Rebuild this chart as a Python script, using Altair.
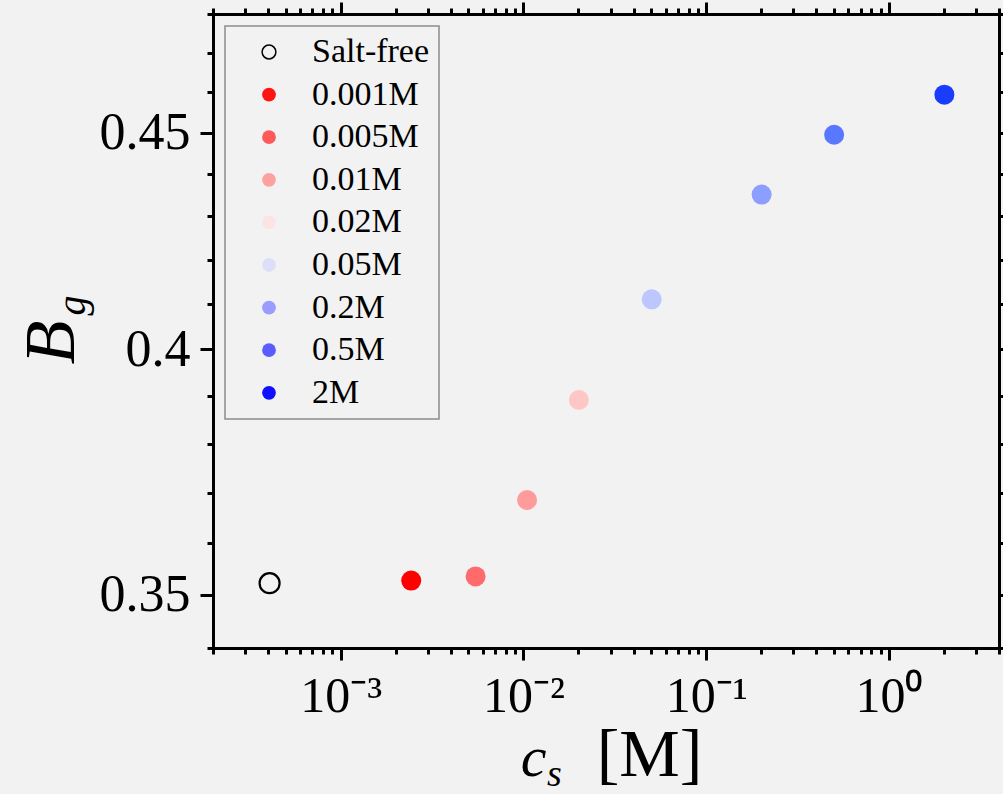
import altair as alt
import pandas as pd

# ---------------- data ----------------
labels = ["Salt-free", "0.001M", "0.005M", "0.01M", "0.02M", "0.05M", "0.2M", "0.5M", "2M"]
cs = [4.08e-4, 2.43e-3, 5.47e-3, 1.046e-2, 2.01e-2, 5.03e-2, 0.201, 0.501, 2.01]
bg = [0.3522, 0.3527, 0.3535, 0.3685, 0.3891, 0.4110, 0.4351, 0.4495, 0.4594]

point_fill = ["transparent", "#ff0000", "#ff6b6b", "#ff9b9b", "#ffc6c6",
              "#bcc6ff", "#8c9eff", "#5a78ff", "#1a3cff"]
point_stroke = ["#000000"] + ["transparent"] * 8
legend_fill = ["transparent", "#ff1414", "#ff5a5a", "#ffa0a0", "#fde3e3",
               "#dddff9", "#9a9cff", "#5a5cff", "#1010ff"]
legend_stroke = ["#000000"] + ["transparent"] * 8

x_domain = [2e-4, 4]
y_domain = [0.34, 0.48]
x_major = [0.001, 0.01, 0.1, 1]
x_major_labels = ["10⁻³", "10⁻²", "10⁻¹", "10⁰"]
x_ticks = [round(m * 10 ** e, 10) for e in range(-4, 1) for m in range(1, 10)
           if x_domain[0] <= round(m * 10 ** e, 10) <= x_domain[1]]
y_major = [0.35, 0.4, 0.45]
y_major_labels = ["0.35", "0.4", "0.45"]
y_ticks = [round(0.34 + 0.01 * i, 2) for i in range(15)]

df = pd.DataFrame({"label": labels, "cs": cs, "bg": bg})

FONT = "Liberation Serif"


def label_expr(vals, labs):
    return "".join(f"datum.value == {v} ? '{l}' : " for v, l in zip(vals, labs)) + "''"


def tick_size(major_vals, big, small):
    return {"condition": {"test": f"indexof({list(major_vals)}, datum.value) >= 0", "value": big},
            "value": small}


common_axis = dict(domainColor="black", domainWidth=3, domainCap="square",
                   tickColor="black", tickWidth=3, grid=False,
                   labelFont=FONT, labelColor="black",
                   titleFont=FONT, titleColor="black", titleFontWeight="normal")

xscale = alt.Scale(type="log", domain=x_domain, nice=False)
yscale = alt.Scale(type="log", domain=y_domain, nice=False)

# ---------------- layer 1: plotted points, bottom + left axes ----------------
points = alt.Chart(df).mark_point(shape="circle", filled=True, size=400, strokeWidth=2.2, opacity=1).encode(
    x=alt.X("cs:Q", scale=xscale,
            axis=alt.Axis(orient="bottom", values=x_ticks,
                          labelExpr=label_expr(x_major, x_major_labels),
                          tickSize=tick_size(x_major, 12, 6), labelFontSize=50,
                          labelPadding=11, labelFlush=False, labelOverlap=False,
                          title="[M]", titleFontSize=68, titleFontStyle="normal",
                          titleX=436, titleY=127, titleAlign="center", titleBaseline="alphabetic",
                          **common_axis)),
    y=alt.Y("bg:Q", scale=yscale,
            axis=alt.Axis(orient="left", values=y_ticks,
                          labelExpr=label_expr(y_major, y_major_labels),
                          tickSize=tick_size(y_major, 13, 6), labelFontSize=52,
                          labelPadding=10, labelFlush=False, labelOverlap=False,
                          title="B", titleFontSize=72, titleFontStyle="italic",
                          titleAngle=270, titleX=-140, titleY=328, titleAlign="center",
                          titleBaseline="alphabetic",
                          **common_axis)),
    fill=alt.Fill("label:N", scale=alt.Scale(domain=labels, range=point_fill), legend=None),
    stroke=alt.Stroke("label:N", scale=alt.Scale(domain=labels, range=point_stroke), legend=None),
)

# ---------------- layer 2: legend driver, top + right axes ----------------
leg = alt.Legend(title=None, orient="top-left", offset=12, padding=9,
                 strokeColor="#8c8c8c", fillColor="#f2f2f2",
                 labelFont=FONT, labelFontSize=34, labelColor="black",
                 symbolType="circle", symbolSize=190, symbolStrokeWidth=1.5,
                 symbolOpacity=1, symbolOffset=18, labelOffset=26, rowPadding=8.6)

legend_layer = alt.Chart(df).mark_point(shape="circle", filled=True, size=400, opacity=0).encode(
    x=alt.X("cs:Q", scale=xscale,
            axis=alt.Axis(orient="top", values=x_ticks, labels=False,
                          tickSize=tick_size(x_major, 12, 6),
                          title="c", titleFontSize=58, titleFontStyle="italic",
                          titleX=320, titleY=761, titleAlign="center", titleBaseline="alphabetic",
                          **common_axis)),
    y=alt.Y("bg:Q", scale=yscale,
            axis=alt.Axis(orient="right", values=y_ticks, labels=False,
                          tickSize=tick_size(y_major, 12, 6),
                          title="g", titleFontSize=40, titleFontStyle="italic",
                          titleAngle=270, titleX=-915, titleY=291, titleAlign="center",
                          titleBaseline="alphabetic",
                          **common_axis)),
    fill=alt.Fill("label:N", scale=alt.Scale(domain=labels, range=legend_fill), legend=leg),
    stroke=alt.Stroke("label:N", scale=alt.Scale(domain=labels, range=legend_stroke), legend=leg),
)

chart = alt.layer(points, legend_layer).resolve_scale(
    fill="independent", stroke="independent"
).resolve_axis(
    x="independent", y="independent"
).resolve_legend(
    fill="independent", stroke="independent"
).properties(
    width=786, height=634,
    padding={"left": 213, "top": 14, "right": 4, "bottom": 146},
    autosize=alt.AutoSizeParams(type="none"),
    background="#f2f2f2",
    title=alt.TitleParams(text="s", orient="top", anchor="start", frame="group",
                          font=FONT, fontStyle="italic", fontSize=38, fontWeight="normal",
                          color="black", dx=334, dy=836, offset=0, baseline="alphabetic"),
).configure_view(stroke="transparent").configure_legend(strokeWidth=1.5)

chart.save("out.html", embed_options={"renderer": "svg", "actions": False})
